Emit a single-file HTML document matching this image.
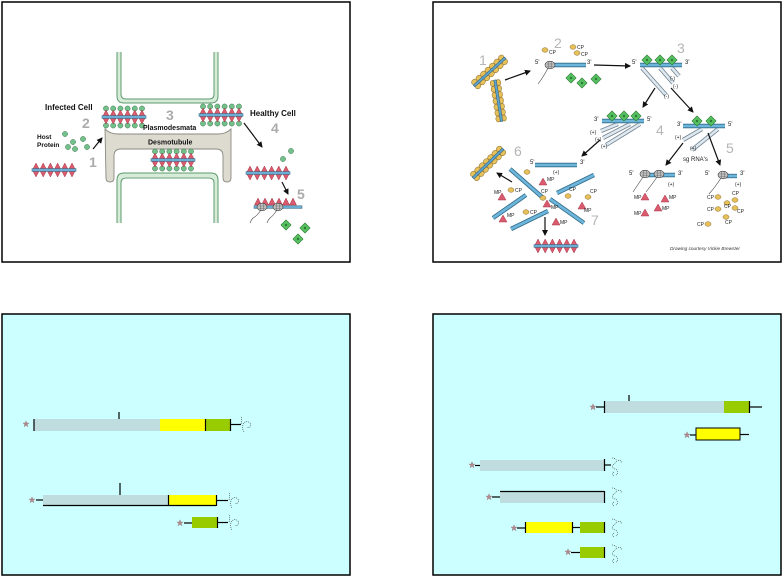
<!DOCTYPE html>
<html><head><meta charset="utf-8"><style>
html,body{margin:0;padding:0;background:#fff;}
svg{display:block;}
text{font-family:"Liberation Sans",sans-serif;}
</style></head><body>
<svg width="782" height="576" viewBox="0 0 782 576" xmlns="http://www.w3.org/2000/svg">
<defs>
<marker id="ah" viewBox="0 0 6 6" markerWidth="5" markerHeight="5" refX="5" refY="3" orient="auto"><path d="M0,0L6,3L0,6z" fill="#111"/></marker>
<g id="dia"><polygon points="-3.6,0 0,-7 3.6,0 0,7" fill="#dc5a6d" stroke="#a23d4c" stroke-width=".5"/></g>
<g id="pA">
<use href="#dia" x="4"/><use href="#dia" x="11.2"/><use href="#dia" x="18.4"/><use href="#dia" x="25.6"/><use href="#dia" x="32.8"/><use href="#dia" x="40"/>
<rect x="0" y="-1.4" width="44" height="2.8" fill="#69aed4" stroke="#2d5e79" stroke-width=".5"/>
</g>
<g id="gc"><circle r="2.6" fill="#74c08a" stroke="#3d7a50" stroke-width=".5"/></g>
<g id="pB">
<use href="#gc" x="4" y="-8.5"/><use href="#gc" x="11.2" y="-8.5"/><use href="#gc" x="18.4" y="-8.5"/><use href="#gc" x="25.6" y="-8.5"/><use href="#gc" x="32.8" y="-8.5"/><use href="#gc" x="40" y="-8.5"/>
<use href="#gc" x="4" y="8.5"/><use href="#gc" x="11.2" y="8.5"/><use href="#gc" x="18.4" y="8.5"/><use href="#gc" x="25.6" y="8.5"/><use href="#gc" x="32.8" y="8.5"/><use href="#gc" x="40" y="8.5"/>
<use href="#pA"/>
</g>
<g id="yov"><ellipse rx="3" ry="2.3" fill="#e6c15a" stroke="#8a6a2a" stroke-width=".5"/></g>
<g id="yrod">
<use href="#yov" x="3" y="-3"/><use href="#yov" x="9" y="-3"/><use href="#yov" x="15" y="-3"/><use href="#yov" x="21" y="-3"/><use href="#yov" x="27" y="-3"/><use href="#yov" x="33" y="-3"/><use href="#yov" x="39" y="-3"/>
<use href="#yov" x="3" y="3"/><use href="#yov" x="9" y="3"/><use href="#yov" x="15" y="3"/><use href="#yov" x="21" y="3"/><use href="#yov" x="27" y="3"/><use href="#yov" x="33" y="3"/><use href="#yov" x="39" y="3"/>
<rect x="0" y="-1.2" width="42" height="2.4" fill="#5fa6cf" stroke="#2c5a75" stroke-width=".5"/>
</g>
<g id="ribo"><ellipse rx="5" ry="3.8" fill="#c4c4c4" stroke="#333" stroke-width=".6"/><path d="M-3.5,-1 h7 M-3.5,1.2 h7 M-1.5,-3 v6 M1.5,-3 v6" stroke="#555" stroke-width=".4"/></g>
<g id="rp"><rect x="-3.6" y="-3.6" width="7.2" height="7.2" transform="rotate(45)" fill="#56c060" stroke="#2b7a33" stroke-width=".6"/><circle r="1.2" fill="#2b7a33"/></g>
<g id="mp"><polygon points="0,-4 4,3 -4,3" fill="#dc5a6d" stroke="#a23d4c" stroke-width=".5"/></g>
<g id="star"><polygon points="0,-3.2 0.9,-1 3.1,-1 1.3,0.5 2,2.8 0,1.4 -2,2.8 -1.3,0.5 -3.1,-1 -0.9,-1" fill="#b08a8e" stroke="#8a6a6e" stroke-width=".3"/></g>
</defs>

<!-- panels -->
<rect x="2" y="2" width="348" height="260" fill="#fff" stroke="#000" stroke-width="1.5"/>
<rect x="433" y="2" width="348" height="260" fill="#fff" stroke="#000" stroke-width="1.5"/>
<rect x="2" y="314" width="348" height="261" fill="#ccffff" stroke="#000" stroke-width="1.5"/>
<rect x="433" y="314" width="348" height="261" fill="#ccffff" stroke="#000" stroke-width="1.5"/>

<!-- ============ TOP LEFT ============ -->
<g fill="none">
<path d="M119,52 V95 Q119,101 125,101 H210 Q216,101 216,95 V52" stroke="#d6ecd9" stroke-width="4.5"/>
<path d="M117,52 V96 Q117,103 124,103 H211 Q218,103 218,96 V52" stroke="#5e9a6e" stroke-width="1"/>
<path d="M121,52 V94 Q121,99 126,99 H209 Q214,99 214,94 V52" stroke="#5e9a6e" stroke-width="1"/>
</g>
<path d="M105,129 Q110,134 118,134 H218 Q226,134 231,129 V178 Q231,182 227,182 Q223,182 223,178 V156 Q223,149 216,149 H121 Q114,149 114,156 V178 Q114,182 110,182 Q106,182 106,178 Z" fill="#dddad0" stroke="#8a8a80" stroke-width=".9"/>
<g fill="none">
<path d="M119,223 V181 Q119,175 125,175 H210 Q216,175 216,181 V223" stroke="#d6ecd9" stroke-width="4.5"/>
<path d="M117,223 V180 Q117,173 124,173 H211 Q218,173 218,180 V223" stroke="#5e9a6e" stroke-width="1"/>
<path d="M121,223 V183 Q121,178 126,178 H209 Q214,178 214,183 V223" stroke="#5e9a6e" stroke-width="1"/>
</g>

<use href="#pA" x="32" y="170"/>
<use href="#pB" x="102" y="117"/>
<use href="#pB" x="199" y="115"/>
<use href="#pB" x="151" y="160"/>
<use href="#pA" x="246" y="173"/>

<!-- particle 5 -->
<g fill="#dc5a6d" stroke="#a23d4c" stroke-width=".5">
<polygon points="254.5,205 258,198 261.5,205"/><polygon points="261.5,205 265,198 268.5,205"/><polygon points="268.5,205 272,198 275.5,205"/><polygon points="275.5,205 279,198 282.5,205"/><polygon points="282.5,205 286,198 289.5,205"/><polygon points="289.5,205 293,198 296.5,205"/>
</g>
<rect x="254" y="205.8" width="48" height="2.6" fill="#69aed4" stroke="#2d5e79" stroke-width=".5"/>
<use href="#ribo" x="262" y="207"/><use href="#ribo" x="278" y="207"/>
<path d="M261,210 q-4,6 -8,8 q-2,2 -3,5 M277,210 q-4,6 -7,8 q-2,2 -3,5" stroke="#444" stroke-width=".6" fill="none"/>
<use href="#rp" x="286" y="225"/><use href="#rp" x="305" y="228"/><use href="#rp" x="298" y="239"/>

<!-- host protein -->
<use href="#gc" x="65" y="134"/><use href="#gc" x="73" y="142"/><use href="#gc" x="83" y="139"/><use href="#gc" x="68" y="147"/><use href="#gc" x="75" y="149"/><use href="#gc" x="87" y="147"/>
<use href="#gc" x="283" y="159"/><use href="#gc" x="291" y="151"/>

<!-- arrows -->
<g stroke="#111" stroke-width="1.2" marker-end="url(#ah)">
<line x1="93" y1="149" x2="102" y2="138"/>
<line x1="244" y1="123" x2="262" y2="147"/>
<line x1="282" y1="182" x2="288" y2="194"/>
</g>

<g font-weight="bold" fill="#111">
<text x="45" y="110" font-size="8">Infected Cell</text>
<text x="250" y="116" font-size="8">Healthy Cell</text>
<text x="37" y="139" font-size="6.5">Host</text>
<text x="37" y="147" font-size="6.5">Protein</text>
<text x="143" y="130" font-size="7">Plasmodesmata</text>
<text x="148" y="144.5" font-size="7">Desmotubule</text>
</g>
<g font-weight="bold" fill="#ababab" font-size="14">
<text x="82" y="128">2</text>
<text x="89" y="167">1</text>
<text x="166" y="120">3</text>
<text x="271" y="133">4</text>
<text x="297" y="199">5</text>
</g>

<!-- ============ TOP RIGHT ============ -->
<g transform="translate(474,86) rotate(-42)"><use href="#yrod"/></g>
<g transform="translate(495,80) rotate(81)"><use href="#yrod"/></g>
<g transform="translate(473,178) rotate(-44)"><use href="#yrod"/></g>

<!-- grey strands -->
<g stroke="#6f8290" stroke-width="4.2" stroke-linecap="butt">
<line x1="642" y1="68" x2="666" y2="95"/><line x1="660" y1="68" x2="673" y2="83"/><line x1="672" y1="68" x2="679" y2="76"/>
<line x1="640" y1="124" x2="606" y2="145"/><line x1="630" y1="124" x2="603" y2="138"/><line x1="618" y1="124" x2="601" y2="131"/>
<line x1="718" y1="129" x2="692" y2="150"/><line x1="702" y1="129" x2="683" y2="140"/>
</g>
<g stroke="#dfe8ee" stroke-width="2.6">
<line x1="642" y1="68" x2="666" y2="95"/><line x1="660" y1="68" x2="673" y2="83"/><line x1="672" y1="68" x2="679" y2="76"/>
<line x1="640" y1="124" x2="606" y2="145"/><line x1="630" y1="124" x2="603" y2="138"/><line x1="618" y1="124" x2="601" y2="131"/>
<line x1="718" y1="129" x2="692" y2="150"/><line x1="702" y1="129" x2="683" y2="140"/>
</g>

<!-- blue rods -->
<g stroke="#2f6a88" stroke-width="4.4">
<line x1="550" y1="65" x2="586" y2="65"/><line x1="640" y1="65" x2="682" y2="65"/>
<line x1="602" y1="121" x2="644" y2="121"/><line x1="683" y1="126" x2="725" y2="126"/>
<line x1="535" y1="165" x2="577" y2="165"/>
<line x1="510" y1="169" x2="542" y2="197"/><line x1="557" y1="193" x2="594" y2="175"/>
<line x1="493" y1="218" x2="526" y2="195"/><line x1="511" y1="229" x2="548" y2="211"/>
<line x1="550" y1="199" x2="584" y2="223"/>
<line x1="645" y1="175" x2="675" y2="175"/><line x1="723" y1="176" x2="737" y2="176"/>
</g>
<g stroke="#6db5da" stroke-width="2.8">
<line x1="550" y1="65" x2="586" y2="65"/><line x1="640" y1="65" x2="682" y2="65"/>
<line x1="602" y1="121" x2="644" y2="121"/><line x1="683" y1="126" x2="725" y2="126"/>
<line x1="535" y1="165" x2="577" y2="165"/>
<line x1="510" y1="169" x2="542" y2="197"/><line x1="557" y1="193" x2="594" y2="175"/>
<line x1="493" y1="218" x2="526" y2="195"/><line x1="511" y1="229" x2="548" y2="211"/>
<line x1="550" y1="199" x2="584" y2="223"/>
<line x1="645" y1="175" x2="675" y2="175"/><line x1="723" y1="176" x2="737" y2="176"/>
</g>

<use href="#ribo" x="550" y="65"/>
<path d="M548,68 q-4,8 -10,16" stroke="#444" stroke-width=".6" fill="none"/>
<use href="#ribo" x="645" y="174"/><use href="#ribo" x="659" y="174"/>
<path d="M643,177 q-4,6 -10,15 M657,177 q-4,6 -11,15" stroke="#444" stroke-width=".6" fill="none"/>
<use href="#ribo" x="723" y="175"/>
<path d="M721,178 q-5,8 -12,16" stroke="#444" stroke-width=".6" fill="none"/>

<!-- RP diamonds -->
<use href="#rp" x="571" y="78"/><use href="#rp" x="582" y="83"/><use href="#rp" x="596" y="79"/>
<use href="#rp" x="647" y="60"/><use href="#rp" x="660" y="60"/><use href="#rp" x="672" y="60"/>
<use href="#rp" x="612" y="116"/><use href="#rp" x="624" y="116"/><use href="#rp" x="636" y="116"/>
<use href="#rp" x="697" y="121"/><use href="#rp" x="711" y="121"/>

<!-- bottom particle -->
<use href="#pA" x="534" y="246"/>

<!-- CP ovals -->
<g>
<use href="#yov" x="545" y="50"/><use href="#yov" x="573" y="47"/><use href="#yov" x="577" y="53"/>
<use href="#yov" x="527" y="172"/><use href="#yov" x="511" y="190"/><use href="#yov" x="543" y="198"/><use href="#yov" x="568" y="196"/><use href="#yov" x="588" y="197"/><use href="#yov" x="526" y="212"/>
<use href="#yov" x="718" y="197"/><use href="#yov" x="735" y="200"/><use href="#yov" x="727" y="203"/><use href="#yov" x="718" y="209"/><use href="#yov" x="735" y="208"/><use href="#yov" x="726" y="217"/><use href="#yov" x="708" y="224"/>
</g>
<!-- MP -->
<use href="#mp" x="543" y="182"/><use href="#mp" x="502" y="197"/><use href="#mp" x="547" y="204"/><use href="#mp" x="582" y="206"/><use href="#mp" x="503" y="219"/><use href="#mp" x="556" y="222"/>
<use href="#mp" x="645" y="197"/><use href="#mp" x="665" y="199"/><use href="#mp" x="645" y="213"/><use href="#mp" x="658" y="208"/>

<!-- arrows -->
<g stroke="#111" stroke-width="1.2" marker-end="url(#ah)">
<line x1="505" y1="80" x2="530" y2="71"/>
<line x1="594" y1="65" x2="630" y2="66"/>
<line x1="655" y1="88" x2="643" y2="107"/>
<line x1="671" y1="88" x2="693" y2="112"/>
<line x1="600" y1="140" x2="582" y2="156"/>
<line x1="683" y1="143" x2="666" y2="165"/>
<line x1="708" y1="133" x2="720" y2="165"/>
<line x1="512" y1="182" x2="497" y2="173"/>
<line x1="545" y1="217" x2="545" y2="235"/>
</g>

<g fill="#222" font-size="6">
<text x="535" y="64">5'</text><text x="587" y="64">3'</text>
<text x="632" y="64">5'</text><text x="685" y="64">3'</text>
<text x="594" y="121">3'</text><text x="647" y="121">5'</text>
<text x="677" y="126">3'</text><text x="728" y="126">5'</text>
<text x="530" y="164">5'</text><text x="580" y="164">3'</text><text x="553" y="174" font-size="5">(+)</text>
<text x="629" y="175">5'</text><text x="678" y="175">3'</text><text x="668" y="186" font-size="5">(+)</text>
<text x="705" y="175">5'</text><text x="740" y="175">3'</text><text x="735" y="186" font-size="5">(+)</text>
<text x="670" y="80" font-size="5">(-)</text><text x="673" y="88" font-size="5">(-)</text><text x="664" y="98" font-size="5">(-)</text>
<text x="590" y="134" font-size="5">(+)</text><text x="595" y="141" font-size="5">(+)</text><text x="601" y="148" font-size="5">(+)</text>
<text x="675" y="139" font-size="5">(+)</text><text x="690" y="150" font-size="5">(+)</text>
<text x="683" y="161">sg RNA's</text>
</g>
<g fill="#222" font-size="5">
<text x="549" y="54">CP</text><text x="577" y="49">CP</text><text x="581" y="56">CP</text>
<text x="515" y="192">CP</text><text x="541" y="193">CP</text><text x="569" y="191">CP</text><text x="590" y="193">CP</text><text x="530" y="214">CP</text>
<text x="707" y="199">CP</text><text x="732" y="195">CP</text><text x="707" y="211">CP</text><text x="724" y="208">CP</text><text x="737" y="213">CP</text><text x="725" y="224">CP</text><text x="697" y="226">CP</text>
<text x="547" y="181">MP</text><text x="494" y="194">MP</text><text x="551" y="209">MP</text><text x="584" y="212">MP</text><text x="507" y="217">MP</text><text x="560" y="224">MP</text>
<text x="634" y="199">MP</text><text x="669" y="199">MP</text><text x="634" y="215">MP</text><text x="662" y="210">MP</text>
</g>
<g fill="#b5b5b5" font-size="14">
<text x="479" y="65">1</text>
<text x="554" y="48">2</text>
<text x="677" y="53">3</text>
<text x="656" y="135">4</text>
<text x="726" y="153">5</text>
<text x="514" y="156">6</text>
<text x="591" y="225">7</text>
</g>
<text x="670" y="250" font-size="4.6" font-style="italic" fill="#333" font-family="Liberation Serif, serif" textLength="70" lengthAdjust="spacingAndGlyphs">Drawing courtesy Vickie Brewster</text>

<!-- ============ BOTTOM LEFT ============ -->
<!-- row1 -->
<use href="#star" x="26" y="424"/>
<rect x="34" y="419" width="126" height="12" fill="#bfdcdf"/>
<rect x="160" y="419" width="45" height="12" fill="#ffff00"/>
<rect x="205" y="419" width="25" height="12" fill="#99cc00"/>
<g stroke="#000" stroke-width="1.2">
<line x1="34" y1="419" x2="34" y2="431"/>
<line x1="119" y1="412" x2="119" y2="419"/>
<line x1="205.5" y1="419" x2="205.5" y2="431"/>
<line x1="230.5" y1="419" x2="230.5" y2="431"/>
<line x1="230" y1="424.5" x2="241" y2="424.5"/>
</g>
<!-- row2 -->
<use href="#star" x="32" y="500"/>
<rect x="43" y="495" width="125" height="11" fill="#bfdcdf"/>
<rect x="168" y="495" width="48" height="11" fill="#ffff00"/>
<g stroke="#000" stroke-width="1.2">
<line x1="36" y1="500" x2="43" y2="500"/>
<line x1="43" y1="505.5" x2="216" y2="505.5"/>
<line x1="120" y1="483" x2="120" y2="495"/>
<line x1="168.5" y1="495" x2="168.5" y2="506"/>
<line x1="216.5" y1="495" x2="216.5" y2="506"/>
<line x1="216" y1="500.5" x2="228" y2="500.5"/>
</g>
<!-- row3 -->
<use href="#star" x="180" y="523"/>
<rect x="192" y="517" width="25" height="11" fill="#99cc00"/>
<g stroke="#000" stroke-width="1.2">
<line x1="184" y1="523" x2="192" y2="523"/>
<line x1="217.5" y1="517" x2="217.5" y2="528"/>
<line x1="217" y1="522.5" x2="228" y2="522.5"/>
</g>
<g fill="none" stroke="#333" stroke-width=".6" stroke-dasharray="1,1">
<path d="M241,424 c1,-2 1,-5 0,-8 M243,424 c2,-3 5,-3 7,-1 c2,3 -1,6 -3,4 M243,425 c-1,3 0,5 1,7"/>
<path d="M229,500 c1,-2 1,-5 0,-8 M231,500 c2,-3 5,-3 7,-1 c2,3 -1,6 -3,4 M231,501 c-1,3 0,5 1,7"/>
<path d="M229,522 c1,-2 1,-5 0,-8 M231,522 c2,-3 5,-3 7,-1 c2,3 -1,6 -3,4 M231,523 c-1,3 0,5 1,7"/>
</g>

<!-- ============ BOTTOM RIGHT ============ -->
<!-- row1 -->
<use href="#star" x="593" y="407"/>
<rect x="604" y="401" width="120" height="12" fill="#bfdcdf"/>
<rect x="724" y="401" width="25" height="12" fill="#99cc00"/>
<g stroke="#000" stroke-width="1.2">
<line x1="596" y1="407" x2="604" y2="407"/>
<line x1="604.5" y1="401" x2="604.5" y2="413"/>
<line x1="629" y1="395" x2="629" y2="401"/>
<line x1="749.5" y1="401" x2="749.5" y2="413"/>
<line x1="749" y1="407" x2="762" y2="407"/>
</g>
<!-- row2 -->
<use href="#star" x="687" y="435"/>
<rect x="696" y="428" width="44" height="12" fill="#ffff00" stroke="#000" stroke-width="1"/>
<g stroke="#000" stroke-width="1.2">
<line x1="690" y1="435" x2="696" y2="435"/>
<line x1="740" y1="434.5" x2="749" y2="434.5"/>
</g>
<!-- row3 -->
<use href="#star" x="472" y="465"/>
<rect x="480" y="460" width="124" height="11" fill="#bfdcdf"/>
<g stroke="#000" stroke-width="1.2">
<line x1="475" y1="465.5" x2="480" y2="465.5"/>
<line x1="604.5" y1="459" x2="604.5" y2="471"/>
<line x1="604" y1="465" x2="611" y2="465"/>
</g>
<!-- row4 -->
<use href="#star" x="489" y="497"/>
<rect x="500" y="491" width="104" height="12" fill="#bfdcdf"/>
<g stroke="#000" stroke-width="1.2">
<line x1="492" y1="497" x2="500" y2="497"/>
<line x1="500" y1="491.5" x2="604" y2="491.5"/>
<line x1="604.5" y1="491" x2="604.5" y2="503"/>
</g>
<!-- row5 -->
<use href="#star" x="514" y="528"/>
<rect x="525" y="522" width="47" height="11" fill="#ffff00"/>
<rect x="580" y="522" width="24" height="11" fill="#99cc00"/>
<g stroke="#000" stroke-width="1.2">
<line x1="517" y1="528" x2="525" y2="528"/>
<line x1="525.5" y1="522" x2="525.5" y2="533"/>
<line x1="572.5" y1="522" x2="572.5" y2="533"/>
<line x1="572" y1="527.5" x2="580" y2="527.5"/>
<line x1="604.5" y1="522" x2="604.5" y2="533"/>
</g>
<!-- row6 -->
<use href="#star" x="568" y="552"/>
<rect x="580" y="547" width="24" height="11" fill="#99cc00"/>
<g stroke="#000" stroke-width="1.2">
<line x1="571" y1="552.5" x2="580" y2="552.5"/>
<line x1="604.5" y1="547" x2="604.5" y2="558"/>
</g>
<g fill="none" stroke="#333" stroke-width=".6" stroke-dasharray="1,1">
<path d="M612,458 c4,0 6,3 3,5 c-3,2 -4,5 0,6 c3,1 4,4 1,6 M618,461 c2,-2 4,0 3,2 M614,472 c-2,1 -2,3 0,4"/>
<path d="M612,488 c4,0 6,3 3,5 c-3,2 -4,5 0,6 c3,1 4,4 1,6 M618,491 c2,-2 4,0 3,2 M614,502 c-2,1 -2,3 0,4"/>
<path d="M612,519 c4,0 6,3 3,5 c-3,2 -4,5 0,6 c3,1 4,4 1,6 M618,522 c2,-2 4,0 3,2 M614,533 c-2,1 -2,3 0,4"/>
<path d="M612,545 c4,0 6,3 3,5 c-3,2 -4,5 0,6 c3,1 4,4 1,6 M618,548 c2,-2 4,0 3,2 M614,559 c-2,1 -2,3 0,4"/>
</g>
</svg>
</body></html>
